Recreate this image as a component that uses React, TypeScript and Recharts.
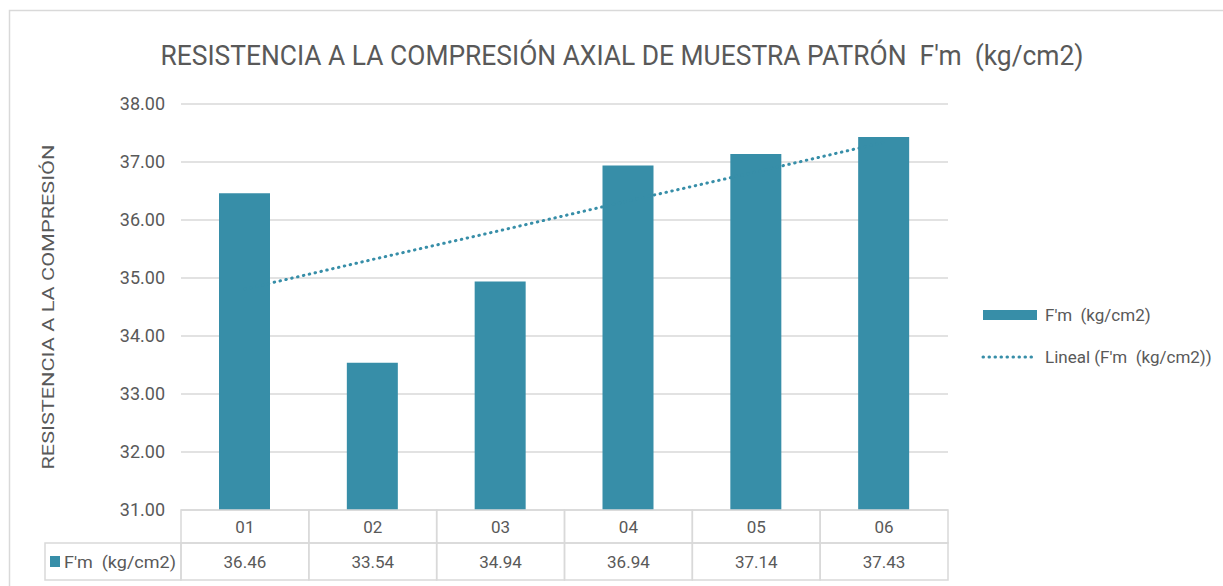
import React from 'react'
import {
  ComposedChart,
  Bar,
  Line,
  XAxis,
  YAxis,
  CartesianGrid,
  Customized,
} from 'recharts'

const categories = ['01', '02', '03', '04', '05', '06']
const fmValues = [36.46, 33.54, 34.94, 36.94, 37.14, 37.43]
// linear trendline as drawn in the picture
const trendValues = [34.81, 35.32, 35.82, 36.33, 36.83, 37.34]
const yTicks = [31, 32, 33, 34, 35, 36, 37, 38]

const seriesName = "F'm  (kg/cm2)"
const trendName = "Lineal (F'm  (kg/cm2))"
const title = "RESISTENCIA A LA COMPRESIÓN AXIAL DE MUESTRA PATRÓN  F'm  (kg/cm2)"
const yLabel = 'RESISTENCIA A LA COMPRESIÓN'

const data = categories.map((cat, i) => ({
  cat,
  fm: fmValues[i],
  trend: trendValues[i],
}))

const W = 1223
const H = 586
const PLOT_LEFT = 181
const PLOT_RIGHT = 948
const PLOT_TOP = 104
const PLOT_BOTTOM = 510
const CELL_W = (PLOT_RIGHT - PLOT_LEFT) / categories.length
const ROW1_H = 33
const ROW2_H = 37

const BAR_COLOR = '#378ea8'
const TEXT = '#595959'
const BORDER = '#d9d9d9'
const FONT = 'Roboto, sans-serif'
const pre = { whiteSpace: 'pre' } as React.CSSProperties

function TableTick(props: any) {
  const { x, payload, index } = props
  const left = x - CELL_W / 2
  const i = payload?.index ?? index
  return (
    <g>
      <rect x={left} y={PLOT_BOTTOM} width={CELL_W} height={ROW1_H} fill="none" stroke={BORDER} strokeWidth={1.5} />
      <rect x={left} y={PLOT_BOTTOM + ROW1_H} width={CELL_W} height={ROW2_H} fill="none" stroke={BORDER} strokeWidth={1.5} />
      <text x={x} y={PLOT_BOTTOM + 23} textAnchor="middle" fontSize={17} fill={TEXT} fontFamily={FONT}>
        {payload.value}
      </text>
      <text x={x} y={PLOT_BOTTOM + ROW1_H + 25} textAnchor="middle" fontSize={17} fill={TEXT} fontFamily={FONT}>
        {fmValues[i].toFixed(2)}
      </text>
    </g>
  )
}

function Decorations() {
  return (
    <g>
      <rect x={9.5} y={10.5} width={W} height={H} fill="none" stroke={BORDER} strokeWidth={1.5} />
      <text x={622} y={65} textAnchor="middle" fontSize={28} fill={TEXT} fontFamily={FONT} style={pre}
        textLength={923} lengthAdjust="spacingAndGlyphs">
        {title}
      </text>
      <text x={54} y={307} textAnchor="middle" fontSize={16} fill={TEXT} fontFamily={FONT}
        transform="rotate(-90 54 307)" textLength={325} lengthAdjust="spacingAndGlyphs">
        {yLabel}
      </text>
      {/* table legend cell */}
      <rect x={45} y={PLOT_BOTTOM + ROW1_H} width={PLOT_LEFT - 45} height={ROW2_H} fill="none" stroke={BORDER} strokeWidth={1.5} />
      <rect x={50} y={PLOT_BOTTOM + ROW1_H + 13} width={10} height={11} fill={BAR_COLOR} />
      <text x={64} y={PLOT_BOTTOM + ROW1_H + 25} fontSize={17} fill={TEXT} fontFamily={FONT} style={pre}
        textLength={112} lengthAdjust="spacingAndGlyphs">
        {seriesName}
      </text>
      {/* legend */}
      <rect x={983} y={310} width={54} height={10} fill={BAR_COLOR} />
      <text x={1045} y={321} fontSize={17} fill={TEXT} fontFamily={FONT} style={pre}>{seriesName}</text>
      <line x1={983} y1={357} x2={1035} y2={357} stroke={BAR_COLOR} strokeWidth={3}
        strokeDasharray="0.5 5.5" strokeLinecap="round" />
      <text x={1045} y={363} fontSize={17} fill={TEXT} fontFamily={FONT} style={pre}>{trendName}</text>
    </g>
  )
}

export default function App() {
  return (
    <div style={{ position: 'absolute', left: 0, top: 0, width: W, height: H, background: '#fff' }}>
      <ComposedChart
        width={W}
        height={H}
        data={data}
        margin={{ top: PLOT_TOP, right: W - PLOT_RIGHT, bottom: 0, left: 0 }}
      >
        <CartesianGrid vertical={false} stroke={BORDER} strokeWidth={1.5} />
        <XAxis
          dataKey="cat"
          axisLine={false}
          tickLine={false}
          interval={0}
          height={H - PLOT_BOTTOM}
          tick={<TableTick />}
        />
        <YAxis
          width={PLOT_LEFT}
          domain={[31, 38]}
          ticks={yTicks}
          axisLine={false}
          tickLine={false}
          tickMargin={10}
          tickFormatter={(v: number) => v.toFixed(2)}
          tick={{ fontSize: 18, fill: TEXT, fontFamily: FONT }}
        />
        <Line
          type="linear"
          dataKey="trend"
          stroke={BAR_COLOR}
          strokeWidth={3}
          strokeDasharray="0.5 5.5"
          strokeLinecap="round"
          dot={false}
          activeDot={false}
          isAnimationActive={false}
        />
        <Bar dataKey="fm" fill={BAR_COLOR} barSize={51} isAnimationActive={false} />
        <Customized component={Decorations} />
      </ComposedChart>
    </div>
  )
}
